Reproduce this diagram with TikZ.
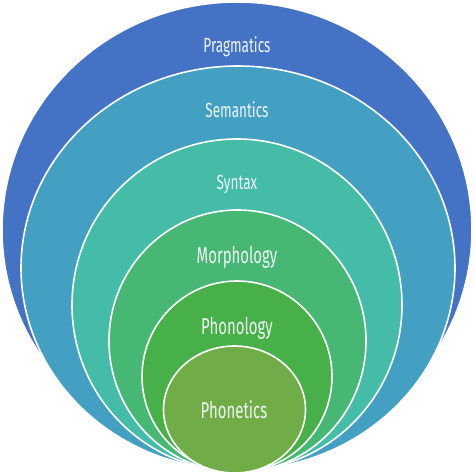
\documentclass[tikz,border=0pt]{standalone}
\usepackage{fontspec}
\setmainfont{Fira Sans}
\usetikzlibrary{shapes.geometric}
\definecolor{cPrag}{HTML}{4472C4}
\definecolor{cSem}{HTML}{43A0C2}
\definecolor{cSyn}{HTML}{44BCA8}
\definecolor{cMor}{HTML}{47B774}
\definecolor{cPhl}{HTML}{47B048}
\definecolor{cPht}{HTML}{70AD47}
\definecolor{cTxt}{HTML}{EEF6F2}
\tikzset{
  ring/.style={ellipse, draw=white, line width=1.6pt, inner sep=0pt},
  lblsmall/.style={text=cTxt, inner sep=0pt, font=\fontsize{20.5}{22}\selectfont},
  lblbig/.style={text=cTxt, inner sep=0pt, font=\fontsize{23}{26}\selectfont}
}
\newcommand{\cond}[2]{\scalebox{#1}[1]{#2}}
\begin{document}
\begin{tikzpicture}[x=1pt,y=-1pt]
\useasboundingbox (0,0) rectangle (474,476);
\node[ring, fill=cPrag, minimum width=470pt, minimum height=456pt] (prag) at (237,230) {};
\node[ring, fill=cSem, minimum width=434pt, minimum height=404pt] (sem) at (238,268) {};
\node[ring, fill=cSyn, minimum width=330pt, minimum height=332pt] (syn) at (237,305) {};
\node[ring, fill=cMor, minimum width=257pt, minimum height=262pt] (mor) at (237.5,341) {};
\node[ring, fill=cPhl, minimum width=190pt, minimum height=191pt] (phl) at (237,376.5) {};
\node[ring, fill=cPht, minimum width=142pt, minimum height=127pt] (pht) at (234.5,409.5) {};
\node[lblsmall] (tprag) at (237,47) {\cond{0.66}{Pragmatics}};
\node[lblsmall] (tsem) at (237,110) {\cond{0.66}{Semantics}};
\node[lblsmall] (tsyn) at (237,184) {\cond{0.66}{Syntax}};
\node[lblbig] (tmor) at (237,257) {\cond{0.65}{Morphology}};
\node[lblbig] (tphl) at (237,328) {\cond{0.65}{Phonology}};
\node[lblbig] (tpht) at (234,410) {\cond{0.65}{Phonetics}};
\end{tikzpicture}
\end{document}
